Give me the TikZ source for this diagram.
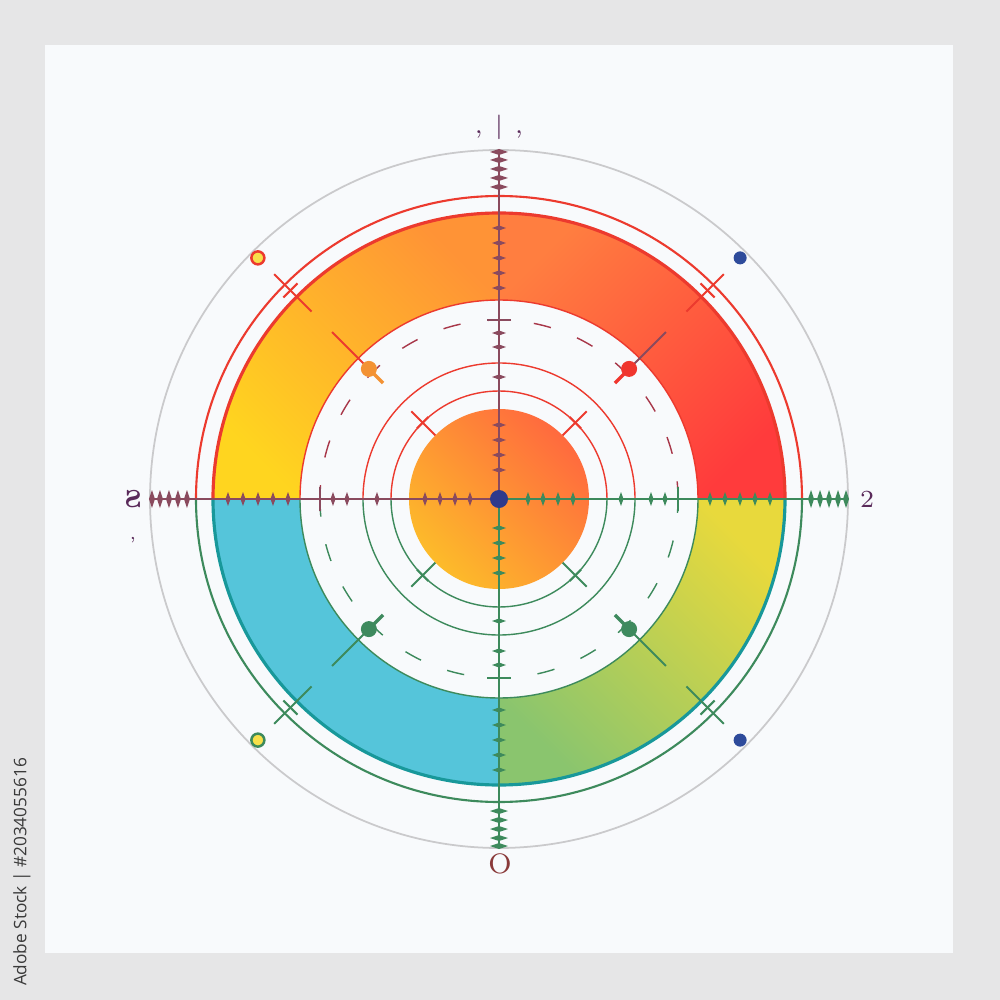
\documentclass[tikz,border=0pt]{standalone}
\usepackage{fontspec}
\newfontfamily\wmfont{Open Sans}
\usetikzlibrary{positioning}
\definecolor{bggray}{HTML}{E6E6E7}
\definecolor{panel}{HTML}{F8FAFC}
\definecolor{ringgray}{HTML}{CACACC}
\definecolor{redline}{HTML}{EC3A2E}
\definecolor{greenline}{HTML}{3D8A5C}
\definecolor{mauve}{HTML}{8A4A5E}
\definecolor{dashred}{HTML}{A8384A}
\definecolor{teal}{HTML}{18989A}
\definecolor{bandyellow}{HTML}{FFD51F}
\definecolor{bandorange}{HTML}{FF9336}
\definecolor{bandorred}{HTML}{FF7E40}
\definecolor{bandred}{HTML}{FF3B3C}
\definecolor{bandlime}{HTML}{E8D93C}
\definecolor{bandgreen}{HTML}{8AC56E}
\definecolor{bandcyan}{HTML}{55C5DA}
\definecolor{discyellow}{HTML}{FDBB2A}
\definecolor{discred}{HTML}{FF6A3E}
\definecolor{hubblue}{HTML}{2E3A8C}
\definecolor{dotblue}{HTML}{2E4B9B}
\definecolor{dotorange}{HTML}{F39233}
\definecolor{dotred}{HTML}{F0362E}
\definecolor{dotgreen}{HTML}{3E8A5E}
\definecolor{dotyellow}{HTML}{F8E04A}
\definecolor{lblpurple}{HTML}{5A2A5A}
\definecolor{lblbrown}{HTML}{8A3A3A}
\definecolor{wmgray}{HTML}{3A3A3A}

\begin{document}
\begin{tikzpicture}[x=0.01cm,y=0.01cm,
    ringline/.style={line width=0.6pt},
    thinline/.style={line width=0.4pt},
    outerdot/.style={circle,inner sep=0pt,minimum size=0.13cm,line width=0.7pt}]
  \useasboundingbox (-499,-501) rectangle (501,499);
  \fill[bggray] (-499,-501) rectangle (501,499);
  \fill[panel] (-454,-454) rectangle (454,454);
  \coordinate (c) at (0,0);

  % outer rings
  \draw[ringgray,line width=0.5pt] (c) circle[radius=349];
  \draw[redline,ringline] (0:303) arc[start angle=0,end angle=180,radius=303];
  \draw[greenline,ringline] (180:303) arc[start angle=180,end angle=360,radius=303];

  % coloured band
  \shade[bottom color=bandyellow,top color=bandorange,shading angle=-45]
    (180:286) arc[start angle=180,end angle=90,radius=286] -- (90:199)
    arc[start angle=90,end angle=180,radius=199] -- cycle;
  \shade[top color=bandorred,bottom color=bandred,shading angle=45]
    (90:286) arc[start angle=90,end angle=0,radius=286] -- (0:199)
    arc[start angle=0,end angle=90,radius=199] -- cycle;
  \shade[top color=bandlime,bottom color=bandgreen,shading angle=-45]
    (0:286) arc[start angle=0,end angle=-90,radius=286] -- (-90:199)
    arc[start angle=-90,end angle=0,radius=199] -- cycle;
  \fill[bandcyan]
    (-90:286) arc[start angle=-90,end angle=-180,radius=286] -- (180:199)
    arc[start angle=180,end angle=270,radius=199] -- cycle;
  \draw[redline,line width=0.9pt] (0:286) arc[start angle=0,end angle=180,radius=286];
  \draw[teal,line width=0.9pt] (180:286) arc[start angle=180,end angle=360,radius=286];
  \draw[redline,thinline] (0:199) arc[start angle=0,end angle=180,radius=199];
  \draw[greenline,thinline] (180:199) arc[start angle=180,end angle=360,radius=199];

  % dashed ring and inner rings
  \draw[dashred,thinline,dash pattern=on 5pt off 8pt] (0:179) arc[start angle=0,end angle=180,radius=179];
  \draw[greenline,thinline,dash pattern=on 5pt off 8pt] (180:179) arc[start angle=180,end angle=360,radius=179];
  \foreach \r in {136,108} {
    \draw[redline,thinline] (0:\r) arc[start angle=0,end angle=180,radius=\r];
    \draw[greenline,thinline] (180:\r) arc[start angle=180,end angle=360,radius=\r];
  }

  % centre disc
  \shade[top color=discred,bottom color=discyellow,shading angle=-45] (c) circle[radius=90];

  % axes with diamond ticks
  \foreach \ang/\col in {90/mauve,180/mauve,0/greenline,270/greenline} {
    \begin{scope}[rotate=\ang]
      \draw[\col,thinline] (c) -- (349,0);
      \foreach \d in {29,44,59,74,122,152,166,211,226,241,256,271}
        \fill[\col] (\d,-7) -- (\d+2.5,0) -- (\d,7) -- (\d-2.5,0) -- cycle;
      \foreach \d in {312,321,330,339,347}
        \fill[\col] (\d,-9) -- (\d+3,0) -- (\d,9) -- (\d-3,0) -- cycle;
      \draw[\col,line width=0.8pt] (179,-12) -- (179,12);
    \end{scope}
  }

  % diagonal markers
  \foreach \ang/\lcol/\col/\dcol in {135/redline/redline/dotorange,45/redline/mauve/dotred,
      225/greenline/greenline/dotgreen,315/greenline/greenline/dotgreen} {
    \begin{scope}[rotate=\ang]
      \draw[\lcol,ringline] (265,0) -- (318,0);
      \draw[\lcol,ringline] (295,-10) -- (295,10);
      \draw[\col,ringline] (184,0) -- (236,0);
      \draw[\dcol,line width=1pt] (184,0) -- (164,0);
      \fill[\dcol] (184,0) circle[radius=8];
      \draw[\lcol,ringline] (90,0) -- (124,0);
      \draw[\lcol,ringline] (108,-8) -- (108,8);
    \end{scope}
  }

  % outer dots
  \node[outerdot,draw=redline,fill=dotyellow] (dnw) at (135:341) {};
  \node[outerdot,fill=dotblue] (dne) at (45:341) {};
  \node[outerdot,draw=greenline,fill=dotyellow] (dsw) at (225:341) {};
  \node[outerdot,fill=dotblue] (dse) at (315:341) {};

  % hub
  \node[circle,fill=hubblue,inner sep=0pt,minimum size=0.18cm] (hub) at (c) {};

  % labels
  \node[text=lblpurple,font=\fontsize{7}{8}\selectfont\bfseries] (lblw) at (-366,0) {\reflectbox{S}};
  \node[text=lblpurple,font=\fontsize{5}{6}\selectfont,below=0.05cm of lblw] (lblwdot) {,};
  \node[text=lblpurple,font=\fontsize{7}{8}\selectfont] (lble) at (368,0) {2};
  \node[text=lblbrown,font=\fontsize{8}{9}\selectfont] (lbls) at (1,-365) {O};
  \node[text=lblpurple,font=\fontsize{7}{8}\selectfont] (lbln) at (0,372) {,\hspace{0.12cm}|\hspace{0.12cm},};

  % stock watermark
  \node[text=wmgray,rotate=90,font=\wmfont\fontsize{4.9}{6}\selectfont] (wm) at (-477,-373) {Adobe Stock | \#2034055616};
\end{tikzpicture}
\end{document}
